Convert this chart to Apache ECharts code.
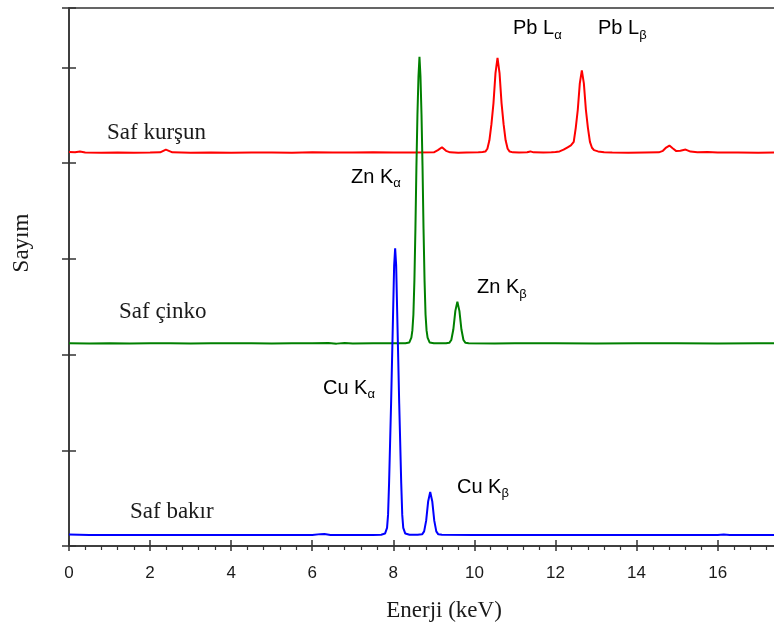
<!DOCTYPE html>
<html>
<head>
<meta charset="utf-8">
<script src="https://cdn.jsdelivr.net/npm/echarts@6/dist/echarts.min.js"></script>
<style>
  html, body { margin: 0; padding: 0; background: #ffffff; }
  #chart { width: 774px; height: 630px; }
</style>
</head>
<body>
<div id="chart"></div>
<script>
// EDX spectra of three pure metals, stacked with a vertical offset (counts, arbitrary units)
const leadEnergy = [0.00, 0.15, 0.27, 0.40, 0.80, 1.20, 1.60, 2.00, 2.25, 2.39, 2.55, 3.00, 3.50, 4.00, 4.50, 5.00, 5.50, 6.00, 6.50, 7.00, 7.50, 8.00, 8.50, 9.00, 9.10, 9.20, 9.30, 9.40, 9.60, 9.80, 10.10, 10.20,
  10.27, 10.32, 10.37, 10.42, 10.47, 10.52, 10.57, 10.62, 10.67, 10.72, 10.77, 10.82, 10.87, 10.95,
  11.10, 11.30, 11.38, 11.46, 11.70, 11.90,
  12.00, 12.10, 12.20, 12.30, 12.38, 12.45, 12.50, 12.55, 12.60, 12.65, 12.70, 12.75, 12.80, 12.85, 12.90, 12.95, 13.05, 13.20, 13.40,
  13.80, 14.20, 14.55, 14.65, 14.73, 14.81, 14.89, 14.98, 15.08, 15.21, 15.33, 15.50, 15.75, 16.00, 16.50, 17.00, 17.50, 18.00, 18.50];
const leadCounts = [4116, 4112, 4120, 4110, 4108, 4110, 4108, 4110, 4112, 4140, 4112, 4108, 4110, 4108, 4110, 4110, 4108, 4112, 4110, 4110, 4112, 4110, 4110, 4112, 4135, 4166, 4128, 4112, 4108, 4110, 4112, 4116,
  4120, 4150, 4238, 4406, 4624, 4940, 5098, 4940, 4624, 4406, 4238, 4150, 4120, 4112,
  4110, 4114, 4122, 4112, 4110, 4112,
  4115, 4122, 4140, 4165, 4185, 4222, 4368, 4557, 4832, 4969, 4832, 4557, 4368, 4222, 4160, 4135, 4122, 4114, 4110,
  4108, 4110, 4112, 4128, 4162, 4183, 4155, 4125, 4128, 4141, 4120, 4112, 4116, 4110, 4110, 4108, 4110, 4110, 4110];

const zincEnergy = [0.00, 0.50, 1.00, 1.50, 2.00, 2.50, 3.00, 3.50, 4.00, 4.50, 5.00, 5.50, 6.00, 6.40, 6.60, 6.80, 7.00, 7.50, 8.00, 8.30,
  8.395, 8.445, 8.470, 8.495, 8.520, 8.545, 8.570, 8.595, 8.620, 8.645, 8.670, 8.695, 8.720, 8.745, 8.770, 8.795, 8.820, 8.845, 8.895,
  9.00, 9.30, 9.38, 9.43, 9.48, 9.53, 9.58, 9.63, 9.68, 9.73, 9.78, 9.86,
  10.50, 11.00, 12.00, 13.00, 14.00, 15.00, 16.00, 17.00, 18.50];
const zincCounts = [2118, 2116, 2117, 2116, 2118, 2117, 2116, 2117, 2118, 2117, 2116, 2117, 2118, 2120, 2114, 2121, 2116, 2117, 2117, 2118,
  2126, 2177, 2252, 2416, 2775, 3314, 3972, 4511, 4900, 5109, 4900, 4511, 3972, 3314, 2775, 2416, 2252, 2177, 2126,
  2117, 2117, 2122, 2152, 2261, 2456, 2552, 2456, 2261, 2152, 2122, 2117,
  2116, 2117, 2117, 2116, 2117, 2117, 2116, 2117, 2117];

const copperEnergy = [0.00, 0.50, 1.00, 2.00, 3.00, 4.00, 5.00, 6.00, 6.20, 6.30, 6.45, 7.00, 7.50, 7.70,
  7.795, 7.845, 7.870, 7.895, 7.920, 7.945, 7.970, 7.995, 8.020, 8.045, 8.070, 8.095, 8.120, 8.145, 8.170, 8.195, 8.220, 8.245, 8.295, 8.40,
  8.60, 8.71, 8.76, 8.81, 8.86, 8.91, 8.96, 9.01, 9.06, 9.11, 9.20,
  10.00, 11.00, 12.00, 13.00, 14.00, 15.00, 16.00, 16.15, 16.30, 17.00, 18.50];
const copperCounts = [119, 116, 115, 116, 115, 115, 114, 115, 124, 126, 116, 115, 116, 118,
  130, 190, 325, 654, 1073, 1492, 1971, 2450, 2929, 3109, 2929, 2450, 1971, 1492, 1073, 654, 325, 190, 130, 117,
  118, 122, 153, 265, 468, 565, 468, 265, 153, 122, 117,
  116, 115, 116, 115, 115, 116, 115, 119, 115, 115, 115];

const sampleNames = ['Saf kurşun', 'Saf çinko', 'Saf bakır'];
const lineColors = ['#ff0000', '#008000', '#0000ff'];
const peakLines = ['Pb L', 'Pb L', 'Zn K', 'Zn K', 'Cu K', 'Cu K'];
const peakSubs = ['α', 'β', 'α', 'β', 'α', 'β'];

const xMin = 0, xMax = 18.5, xStep = 2;
const yMin = 0, yMax = 5620, yStep = 1000;

const SERIF = "'Liberation Serif', 'Times New Roman', serif";
const SANS = "'Liberation Sans', Arial, sans-serif";
const INK = '#1a1a1a';
const AXIS = '#333333';

const pair = (xs, ys) => xs.map((x, i) => [x, ys[i]]);
const spectra = [pair(leadEnergy, leadCounts), pair(zincEnergy, zincCounts), pair(copperEnergy, copperCounts)];

// label anchors in pixels: [left, vertical centre]
const peakPos = [[513, 28.5], [598, 28.5], [351, 177], [477, 287.5], [323, 388], [457, 487]];
const samplePos = [[107, 133], [119, 312], [130, 512]];

const chart = echarts.init(document.getElementById('chart'), null, { renderer: 'canvas' });

const graphics = [];
peakLines.forEach((t, i) => {
  graphics.push({
    type: 'text', x: peakPos[i][0], y: peakPos[i][1], silent: true,
    style: {
      text: '{m|' + t + '}{s|' + peakSubs[i] + '}',
      align: 'left', verticalAlign: 'middle',
      rich: {
        m: { fontFamily: SANS, fontSize: 20, lineHeight: 26, color: INK, verticalAlign: 'middle' },
        s: { fontFamily: SANS, fontSize: 13, lineHeight: 12, color: INK, verticalAlign: 'bottom' }
      }
    }
  });
});
sampleNames.forEach((t, i) => {
  graphics.push({
    type: 'text', x: samplePos[i][0], y: samplePos[i][1], silent: true,
    style: { text: t, fontFamily: SERIF, fontSize: 23, fill: INK, align: 'left', verticalAlign: 'middle' }
  });
});
graphics.push({
  type: 'text', x: 22, y: 243, rotation: Math.PI / 2, silent: true,
  style: { text: 'Sayım', fontFamily: SERIF, fontSize: 23, fill: INK, align: 'center', verticalAlign: 'middle' }
});

chart.setOption({
  animation: false,
  backgroundColor: '#ffffff',
  // the energy axis runs on past the right edge of the view, to 18.5 keV
  grid: {
    left: 69, top: 8, bottom: 84, width: 750,
    outerBoundsMode: 'none', containLabel: false,
    show: true, borderColor: AXIS, borderWidth: 1.5, backgroundColor: 'transparent'
  },
  xAxis: [
    {
      type: 'value', min: xMin, max: xMax, interval: xStep, position: 'bottom',
      name: 'Enerji (keV)', nameLocation: 'middle', nameGap: 53,
      nameTextStyle: { fontFamily: SERIF, fontSize: 23, color: INK },
      axisLine: { show: true, lineStyle: { color: AXIS, width: 1.5 } },
      axisTick: { show: true, inside: false, length: 5, lineStyle: { color: AXIS, width: 1.5 } },
      minorTick: { show: true, splitNumber: 5, length: 4, lineStyle: { color: AXIS, width: 1.2 } },
      axisLabel: { show: true, margin: 19, fontFamily: SANS, fontSize: 17, color: INK, showMaxLabel: false },
      splitLine: { show: false }
    },
    {
      type: 'value', min: xMin, max: xMax, interval: xStep, position: 'bottom',
      axisLine: { show: false },
      axisTick: { show: true, inside: true, length: 6, lineStyle: { color: AXIS, width: 1.5 } },
      axisLabel: { show: false },
      splitLine: { show: false }
    }
  ],
  yAxis: [
    {
      type: 'value', min: yMin, max: yMax, interval: yStep, position: 'left',
      axisLine: { show: true, lineStyle: { color: AXIS, width: 1.5 } },
      axisTick: { show: true, inside: false, length: 7, lineStyle: { color: AXIS, width: 1.5 } },
      axisLabel: { show: false },
      splitLine: { show: false }
    },
    {
      type: 'value', min: yMin, max: yMax, interval: yStep, position: 'left',
      axisLine: { show: false },
      axisTick: { show: true, inside: true, length: 7, lineStyle: { color: AXIS, width: 1.5 } },
      axisLabel: { show: false },
      splitLine: { show: false }
    }
  ],
  series: spectra.map((data, i) => ({
    type: 'line', name: sampleNames[i], data: data,
    xAxisIndex: 0, yAxisIndex: 0,
    showSymbol: false, smooth: false, clip: true,
    lineStyle: { color: lineColors[i], width: 2 },
    z: 2 + i
  })),
  graphic: graphics
});
</script>
</body>
</html>
